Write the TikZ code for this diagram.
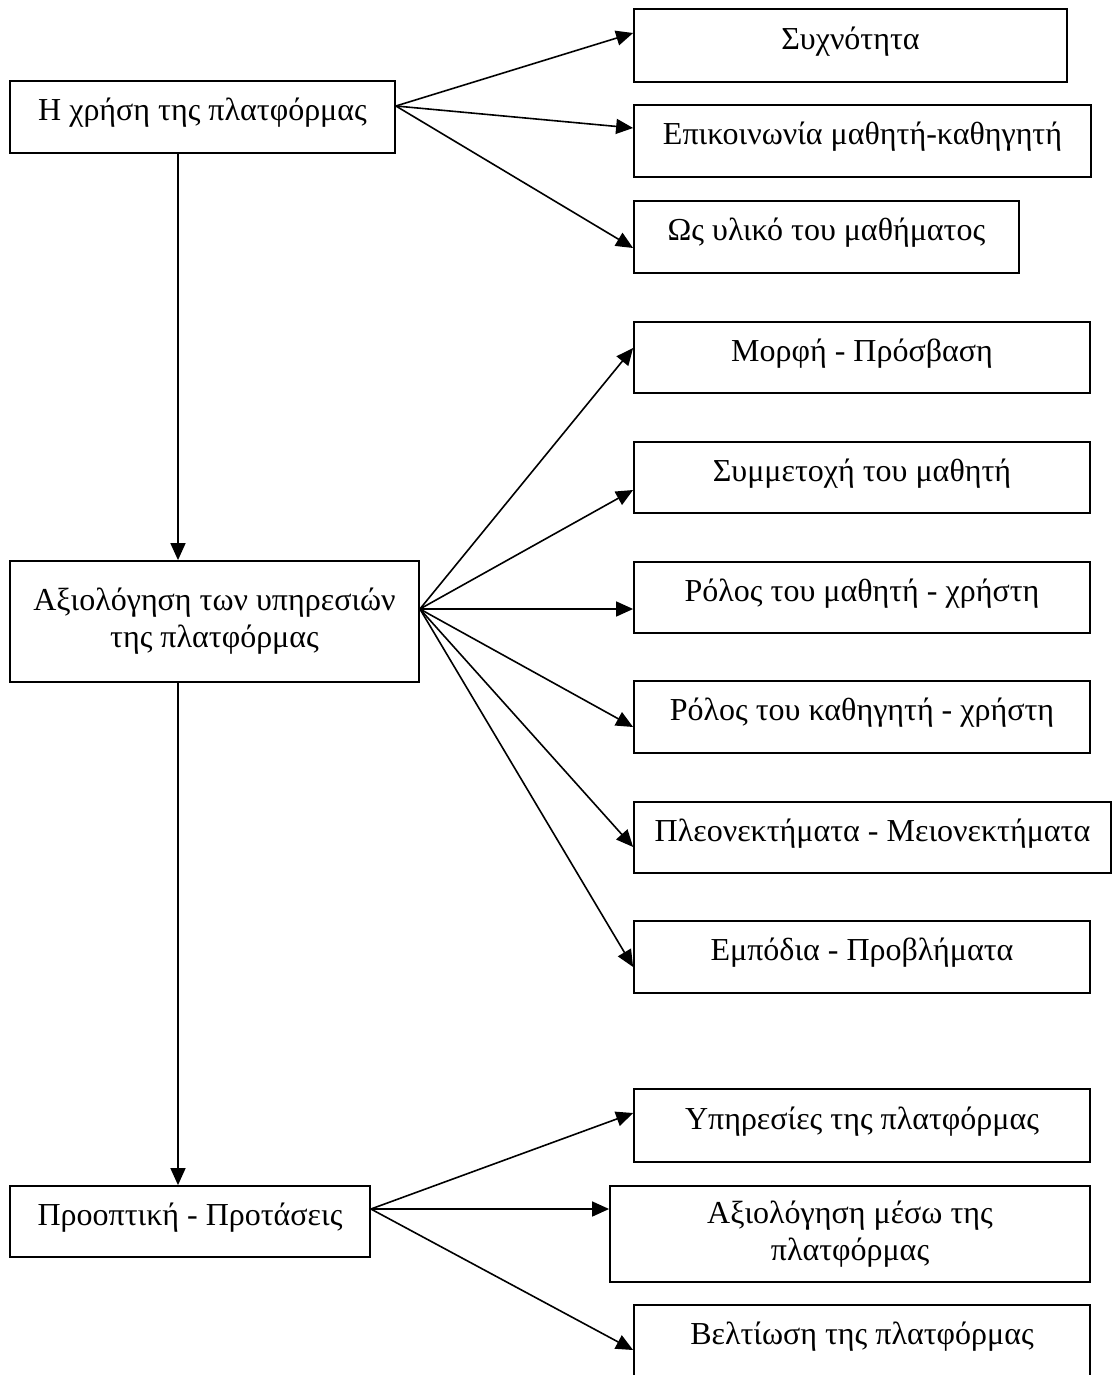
\documentclass[tikz,border=0pt]{standalone}
\usepackage{fontspec}
\setmainfont{Liberation Serif}
\usetikzlibrary{arrows.meta,calc}

\begin{document}
\begin{tikzpicture}[
  x=0.5pt, y=-0.5pt,
  box/.style={draw, rectangle, inner sep=0pt, line width=0.9pt,
              font=\fontsize{16}{18.6}\selectfont, align=center,
              text height=0.75em, text depth=0.36em},
  box2/.style={draw, rectangle, inner sep=0pt, line width=0.9pt,
              font=\fontsize{16}{18.6}\selectfont, align=center},
  arr/.style={line width=0.8pt, -{Triangle[length=8.5pt,width=7.5pt]}}
]
\useasboundingbox (0,0) rectangle (1112,1375);
\clip (0,0) rectangle (1112,1375);

% main column
\node[box, minimum width=192.5pt, minimum height=36pt] (b1) at (202.5,117) {Η χρήση της πλατφόρμας};
\node[box2, minimum width=204.5pt, minimum height=60.5pt] (b2) at (214.5,621.5) {Αξιολόγηση των υπηρεσιών\\της πλατφόρμας};
\node[box, minimum width=180pt, minimum height=35.5pt] (b3) at (190,1221.5) {Προοπτική - Προτάσεις};

% first group
\node[box, minimum width=216.5pt, minimum height=36.5pt] (s1) at (850.5,45.5) {Συχνότητα};
\node[box, minimum width=228.5pt, minimum height=36pt] (s2) at (862.5,141) {Επικοινωνία μαθητή-καθηγητή};
\node[box, minimum width=192.5pt, minimum height=36pt] (s3) at (826.5,237) {Ως υλικό του μαθήματος};

% second group
\node[box, minimum width=228pt, minimum height=35.5pt] (t1) at (862,357.5) {Μορφή - Πρόσβαση};
\node[box, minimum width=228pt, minimum height=35.5pt] (t2) at (862,477.5) {Συμμετοχή του μαθητή};
\node[box, minimum width=228pt, minimum height=35.5pt] (t3) at (862,597.5) {Ρόλος του μαθητή - χρήστη};
\node[box, minimum width=228pt, minimum height=36pt] (t4) at (862,717) {Ρόλος του καθηγητή - χρήστη};
\node[box, minimum width=238.5pt, minimum height=35.5pt] (t5) at (872.5,837.5) {Πλεονεκτήματα - Μειονεκτήματα};
\node[box, minimum width=228pt, minimum height=36pt] (t6) at (862,957) {Εμπόδια - Προβλήματα};

% third group
\node[box, minimum width=228pt, minimum height=36.5pt] (u1) at (862,1125.5) {Υπηρεσίες της πλατφόρμας};
\node[box2, minimum width=240pt, minimum height=48pt] (u2) at (850,1234) {Αξιολόγηση μέσω της\\πλατφόρμας};
\node[box, minimum width=228pt, minimum height=36pt] (u3) at (862,1341) {Βελτίωση της πλατφόρμας};

% fan-out points and the vertical spine
\coordinate (spine) at (178,0);
\coordinate (o1) at ($(b1.east)+(0,-11)$);
\coordinate (o2) at ($(b2.east)+(0,-12.5)$);
\coordinate (o3) at ($(b3.east)+(0,-12.5)$);

\draw[arr] (spine |- b1.south) -- (spine |- b2.north);
\draw[arr] (spine |- b2.south) -- (spine |- b3.north);

\draw[arr] (o1) -- ($(s1.west)+(0,-12.5)$);
\draw[arr] (o1) -- ($(s2.west)+(0,-13)$);
\draw[arr] (o1) -- ($(s3.west)+(0,11)$);

\draw[arr] (o2) -- ($(t1.west)+(0,-9.5)$);
\draw[arr] (o2) -- ($(t2.west)+(0,12.5)$);
\draw[arr] (o2) -- ($(t3.west)+(0,11.5)$);
\draw[arr] (o2) -- ($(t4.west)+(0,10)$);
\draw[arr] (o2) -- ($(t5.west)+(0,9.5)$);
\draw[arr] (o2) -- ($(t6.west)+(0,10)$);

\draw[arr] (o3) -- ($(u1.west)+(0,-12.5)$);
\draw[arr] (o3) -- ($(u2.west)+(0,-25)$);
\draw[arr] (o3) -- ($(u3.west)+(0,9)$);
\end{tikzpicture}
\end{document}
